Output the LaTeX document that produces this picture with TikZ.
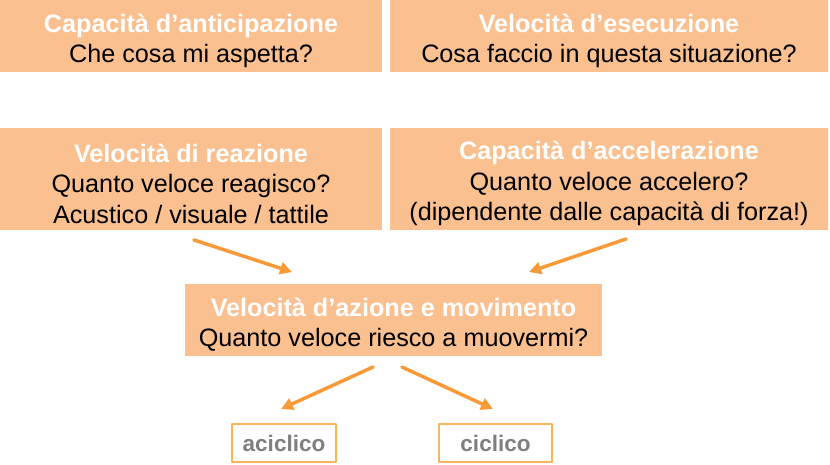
\documentclass[tikz,border=0pt]{standalone}
\usepackage{fontspec}
\setmainfont{Liberation Sans}
\usetikzlibrary{arrows.meta}
\definecolor{pesca}{HTML}{FAC090}
\definecolor{arancio}{HTML}{F99A38}
\definecolor{bordo}{HTML}{F9B55A}
\definecolor{grigio}{HTML}{7F7F7F}
\newcommand{\tit}[1]{\rule{0pt}{28pt}{\bfseries\color{white}#1}}
\begin{document}
\begin{tikzpicture}[x=1pt,y=-1pt,line join=round,line cap=round,
	box/.style={fill=pesca,inner sep=0pt,align=center,font=\fontsize{25.2}{30.5}\selectfont},
	tag/.style={draw=bordo,line width=1.5pt,fill=white,inner sep=0pt,font=\fontsize{22.5}{26}\selectfont\bfseries,text=grigio},
	freccia/.style={-{Triangle[length=12pt,width=12pt]},draw=arancio,line width=3.5pt}]
	\useasboundingbox (0,0) rectangle (830,464);
	\node[box,minimum width=382,minimum height=72] (antic) at (191,36) {\tit{Capacità d’anticipazione}\\Che cosa mi aspetta?};
	\node[box,minimum width=438,minimum height=72] (esec) at (609,36) {\tit{Velocità d’esecuzione}\\Cosa faccio in questa situazione?};
	\node[box,minimum width=382,minimum height=102] (reaz) at (191,179) {\tit{Velocità di reazione}\\Quanto veloce reagisco?\\Acustico / visuale / tattile};
	\node[box,minimum width=438,minimum height=102] (accel) at (609,179) {\tit{Capacità d’accelerazione}\\Quanto veloce accelero?\\(dipendente dalle capacità di forza!)};
	\node[box,minimum width=417,minimum height=72] (azione) at (393.5,320) {\tit{Velocità d’azione e movimento}\\Quanto veloce riesco a muovermi?};
	\node[tag,minimum width=104,minimum height=38] (aciclico) at (284,443) {aciclico};
	\node[tag,minimum width=113,minimum height=38] (ciclico) at (495.5,443) {ciclico};
	% punti delle frecce
	\coordinate (r1) at (194,240);
	\coordinate (r2) at (292,272);
	\coordinate (c1) at (626,239);
	\coordinate (c2) at (529,272);
	\coordinate (m1) at (373,367);
	\coordinate (m2) at (402,367);
	\coordinate (a1) at (281,409);
	\coordinate (a2) at (493,409);
	\draw[freccia] (r1)--(r2);
	\draw[freccia] (c1)--(c2);
	\draw[freccia] (m1)--(a1);
	\draw[freccia] (m2)--(a2);
\end{tikzpicture}
\end{document}
